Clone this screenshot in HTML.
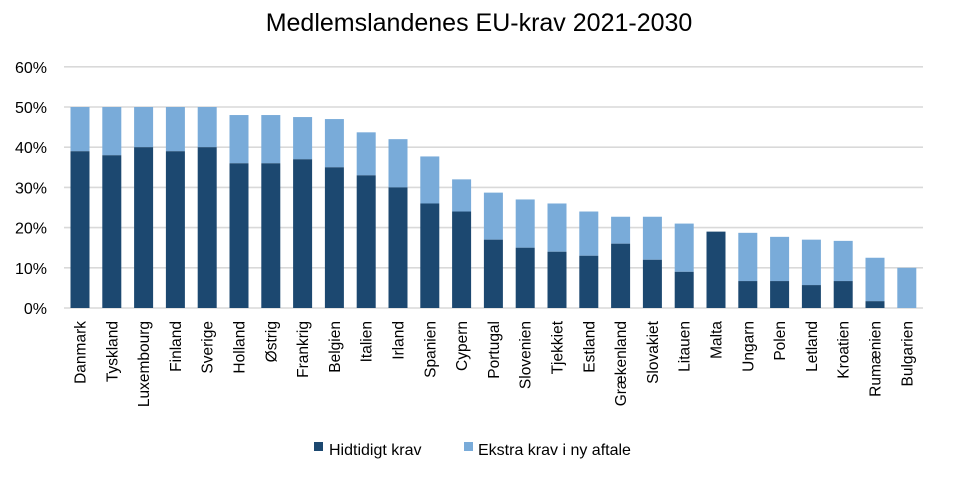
<!DOCTYPE html>
<html><head><meta charset="utf-8"><style>body{margin:0;background:#fff}svg{display:block;font-family:"Liberation Sans",sans-serif}</style></head><body>
<svg width="958" height="478" viewBox="0 0 958 478" xmlns="http://www.w3.org/2000/svg">
<rect width="958" height="478" fill="#fff"/>
<text x="479" y="31" font-size="25" text-anchor="middle" fill="#000">Medlemslandenes EU-krav 2021-2030</text>
<g id="grid" stroke="#d9d9d9" stroke-width="1.6"></g>
<g id="yl" font-size="16" fill="#000" text-anchor="end"></g>
<g id="bars"></g>
<g id="xl" font-size="15.5" fill="#000"></g>
<rect x="314" y="442" width="9" height="9" fill="#1c4870"/>
<text x="329" y="455" font-size="16">Hidtidigt krav</text>
<rect x="464" y="442" width="9" height="9" fill="#79abd9"/>
<text x="478" y="455" font-size="16">Ekstra krav i ny aftale</text>
</svg>
<script>
const ns="http://www.w3.org/2000/svg";
const d=[["Danmark",39,50],["Tyskland",38,50],["Luxembourg",40,50],["Finland",39,50],["Sverige",40,50],["Holland",36,48],["Østrig",36,48],["Frankrig",37,47.5],["Belgien",35,47],["Italien",33,43.7],["Irland",30,42],["Spanien",26,37.7],["Cypern",24,32],["Portugal",17,28.7],["Slovenien",15,27],["Tjekkiet",14,26],["Estland",13,24],["Grækenland",16,22.7],["Slovakiet",12,22.7],["Litauen",9,21],["Malta",19,19],["Ungarn",6.7,18.7],["Polen",6.7,17.7],["Letland",5.7,17],["Kroatien",6.7,16.7],["Rumænien",1.7,12.5],["Bulgarien",0,10]];
const y0=308,k=4.02;
function el(t,a,p,txt){const e=document.createElementNS(ns,t);for(const q in a)e.setAttribute(q,a[q]);if(txt)e.textContent=txt;document.getElementById(p).appendChild(e);}
for(let i=0;i<=6;i++){const y=y0-i*10*k;el("line",{x1:64,x2:923,y1:y,y2:y},"grid");el("text",{x:47,y:y+6},"yl",i*10+"%");}
d.forEach((r,i)=>{const c=80+i*31.8,w=19,x=c-w/2;
el("rect",{x:x,y:y0-r[2]*k,width:w,height:(r[2]-r[1])*k,fill:"#79abd9"},"bars");
el("rect",{x:x,y:y0-r[1]*k,width:w,height:r[1]*k,fill:"#1c4870"},"bars");
el("text",{x:0,y:0,transform:`translate(${c+5.5},321) rotate(-90)`,"text-anchor":"end"},"xl",r[0]);});
</script>
</body></html>
